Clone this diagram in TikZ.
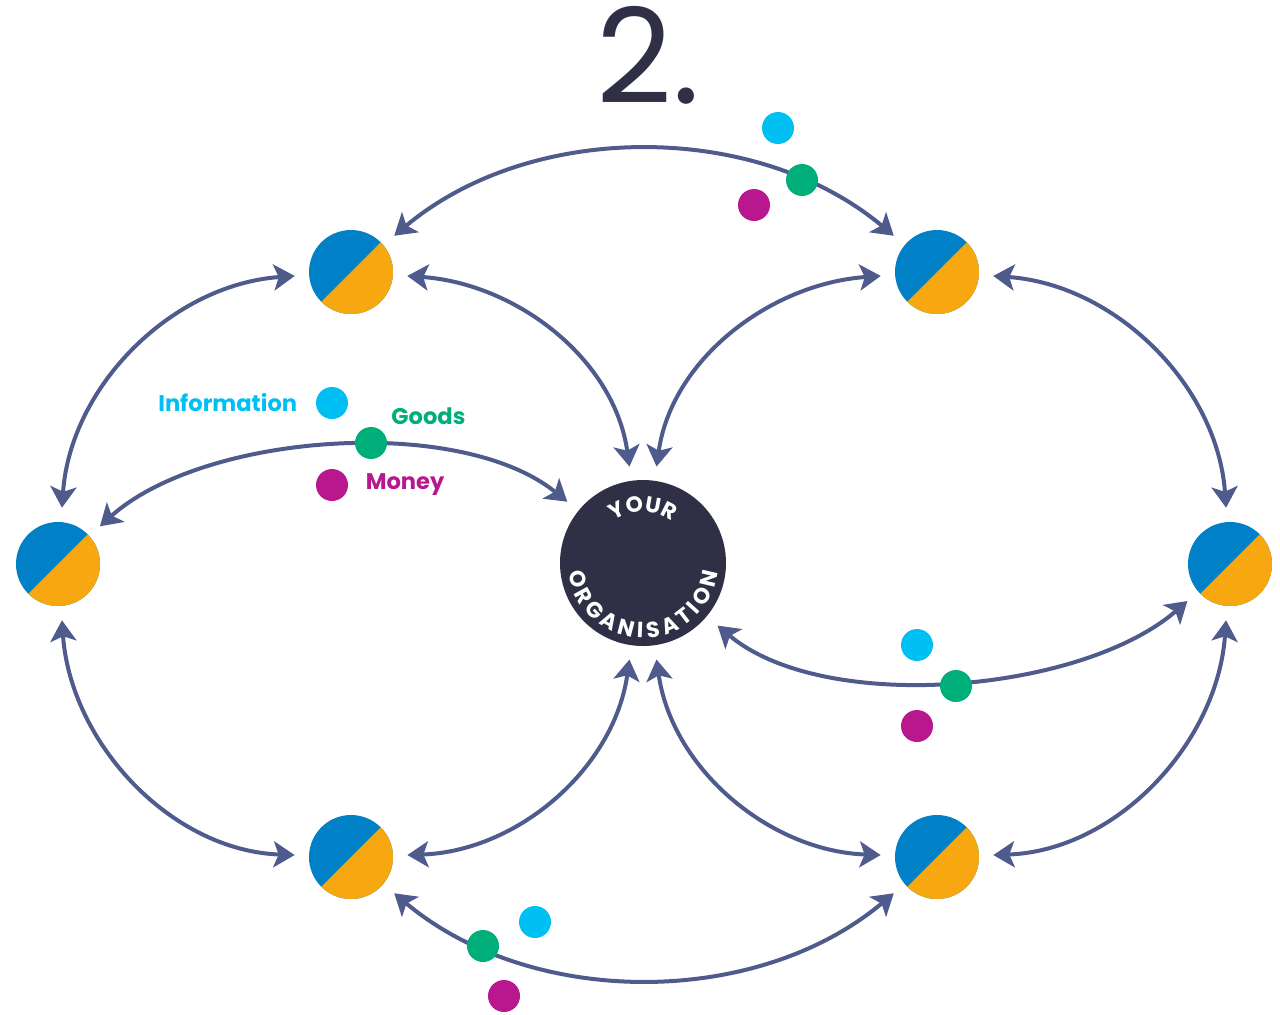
\documentclass[tikz,border=0pt]{standalone}
\usepackage{fontspec}
\setmainfont{Poppins}
\usetikzlibrary{arrows.meta,positioning,decorations.text}
\definecolor{navy}{RGB}{47,47,69}
\definecolor{linkblue}{RGB}{79,91,140}
\definecolor{pblue}{RGB}{0,128,198}
\definecolor{porange}{RGB}{247,167,15}
\definecolor{info}{RGB}{0,191,243}
\definecolor{goods}{RGB}{0,174,122}
\definecolor{money}{RGB}{184,23,142}
\tikzstyle{partner} = [
    circle,
    minimum size=42pt,
    inner sep=0pt,
    fill=pblue,
    path picture={\fill[porange] ([shift={(45:22pt)}]path picture bounding box.center)
        arc[start angle=45, end angle=-135, radius=22pt] -- cycle;}
]
\tikzstyle{org} = [
    circle,
    minimum size=83pt,
    inner sep=0pt,
    fill=navy
]
\tikzstyle{flow} = [
    line width=2pt,
    draw=linkblue,
    {Stealth[length=10.5pt,width=13pt,inset=2.5pt]}-{Stealth[length=10.5pt,width=13pt,inset=2.5pt]},
    shorten <=7pt,
    shorten >=7pt
]
\tikzstyle{dot} = [
    circle,
    minimum size=16pt,
    inner sep=0pt
]
\tikzstyle{keytext} = [
    inner sep=0pt,
    font=\bfseries\fontsize{11.3}{13}\selectfont
]

\begin{document}
\begin{tikzpicture}[x=0.5pt, y=-0.5pt]
    \useasboundingbox (0,0) rectangle (1280,1014);
    \node[anchor=base, text=navy, font=\fontsize{66}{66}\selectfont] (title) at (648,103) {2.};
    % organisation and partners
    \node[org] (you) at (643,563) {};
    \foreach \n/\x/\y in {tl/351/272, tr/937/272, l/58/564, r/1230/564, bl/351/857, br/937/857}
        \node[partner] (\n) at (\x,\y) {};
    \path[decorate, decoration={text along path, text align=fit to path,
        text={|\fontsize{11}{13}\selectfont\bfseries\color{white}|YOUR}}]
        ([shift={(125:25.5pt)}]you.center) arc[start angle=125, end angle=55, radius=25.5pt];
    \path[decorate, decoration={text along path, text align=fit to path,
        text={|\fontsize{11}{13}\selectfont\bfseries\color{white}|ORGANISATION}}]
        ([shift={(187:37.5pt)}]you.center) arc[start angle=187, end angle=353, radius=37.5pt];
    % connections
    \draw[flow] (tl) to[out=40,in=140,looseness=0.95] (tr);
    \draw[flow] (tl) to[out=184,in=86] (l);
    \draw[flow] (tl) to[out=-4,in=98] (you);
    \draw[flow] (tr) to[out=184,in=82] (you);
    \draw[flow] (tr) to[out=-4,in=94] (r);
    \draw[flow] (l) to[out=42,in=141,looseness=0.8] (you);
    \draw[flow] (you) to[out=-40,in=-139,looseness=0.8] (r);
    \draw[flow] (l) to[out=-86,in=178] (bl);
    \draw[flow] (you) to[out=-98,in=2] (bl);
    \draw[flow] (you) to[out=-82,in=178] (br);
    \draw[flow] (r) to[out=-94,in=2] (br);
    \draw[flow] (bl) to[out=-40,in=-140,looseness=0.95] (br);
    % flows
    \foreach \n/\c/\x/\y in {
        i1/info/778/128, g1/goods/802/180, m1/money/754/205,
        i2/info/332/403, g2/goods/371/443, m2/money/332/485,
        i3/info/917/645, g3/goods/956/686, m3/money/917/726,
        i4/info/535/922, g4/goods/483/946, m4/money/504/996
    } {
        \node[dot, fill=\c] (\n) at (\x,\y) {};
    }
    \node[keytext, text=info, left=9pt of i2] (infotext) {Information};
    \node[keytext, text=goods, anchor=west] (goodstext) at (391,416) {Goods};
    \node[keytext, text=money, right=8.5pt of m2] (moneytext) {Money};
\end{tikzpicture}
\end{document}
